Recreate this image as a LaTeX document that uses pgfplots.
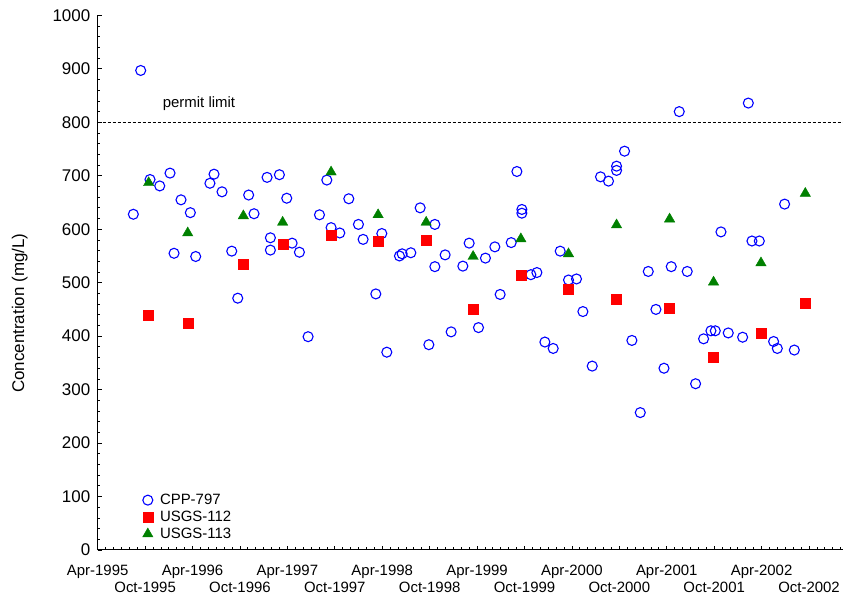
\documentclass[border=0pt]{standalone}
\usepackage{fontspec}
\setmainfont{Liberation Sans}
\usepackage{pgfplots}
\pgfplotsset{compat=1.18}
\definecolor{cppblue}{RGB}{0,0,255}
\definecolor{usred}{RGB}{255,0,0}
\definecolor{usgreen}{RGB}{0,128,0}
\begin{document}
\begin{tikzpicture}
\begin{axis}[
  scale only axis, width=745.3bp, height=534.6bp,
  xmin=0, xmax=94.3, ymin=0, ymax=1000,
  axis lines*=left,
  axis line style={line width=1bp, black},
  tick align=inside,
  xtick={0,12,...,84},
  xticklabels={Apr-1995,Apr-1996,Apr-1997,Apr-1998,Apr-1999,Apr-2000,Apr-2001,Apr-2002},
  extra x ticks={6,18,...,90},
  extra x tick labels={Oct-1995,Oct-1996,Oct-1997,Oct-1998,Oct-1999,Oct-2000,Oct-2001,Oct-2002},
  extra x tick style={x tick label style={yshift=-17bp}},
  minor xtick={0,1,...,94},
  ytick={0,100,...,1000}, minor y tick num=4,
  major tick length=4bp, minor tick length=2.5bp,
  tick style={black, line width=0.8bp},
  x tick label style={font=\fontsize{15}{17}\selectfont, yshift=-11.5bp},
  y tick label style={font=\fontsize{17}{20}\selectfont, xshift=-4bp, /pgf/number format/assume math mode=true},
  /pgf/number format/1000 sep={},
  ylabel={Concentration (mg/L)},
  ylabel style={font=\fontsize{17}{20}\selectfont, at={(axis description cs:-0.1045,0.443)}, anchor=center, rotate=0},
  legend cell align=left,
  legend style={draw=none, fill=none, font=\fontsize{15}{17}\selectfont,
    at={(rel axis cs:0.056,0.011)}, anchor=south west, row sep=1bp, column sep=5bp},
]
\addplot[black, line width=0.6bp, dash pattern=on 3bp off 2bp, forget plot] coordinates {(0,800) (94.3,800)};
\node[anchor=base west, font=\fontsize{15}{17}\selectfont] at (axis cs:7.8,827) {permit limit};

\addplot[only marks, mark=o, mark size=5bp, draw=cppblue, mark options={line width=1.1bp}] coordinates {
(4.51,628) (5.44,897) (6.62,693) (7.85,681) (9.15,705) (9.66,555) (10.54,655) (11.72,631)
(12.4,549) (14.2,686) (14.72,703) (15.73,670) (16.96,559) (17.72,471) (19.1,664) (19.78,629)
(21.43,697) (21.85,584) (21.85,561) (22.99,702) (23.92,658) (24.6,574) (25.52,557) (26.62,399)
(28.06,627) (28.99,692) (29.53,603) (30.63,593) (31.77,657) (32.99,609) (33.58,581) (35.19,479)
(35.95,592) (36.58,370) (38.18,550) (38.52,554) (39.62,556) (40.8,640) (41.9,384) (42.66,609)
(42.66,530) (43.96,552) (44.72,408) (46.2,531) (47.0,574) (48.18,416) (49.06,546) (50.25,567)
(50.92,478) (52.32,575) (53.04,708) (53.67,637) (53.67,630) (54.81,515) (55.57,519) (56.58,389)
(57.63,377) (58.52,559) (59.57,505) (60.58,507) (61.39,446) (62.57,344) (63.62,698) (64.63,690)
(65.65,718) (65.65,710) (66.66,746) (67.59,392) (68.65,257) (69.66,521) (70.63,450) (71.65,340)
(72.57,530) (73.58,820) (74.59,521) (75.65,311) (76.66,395) (77.59,410) (78.14,410) (78.86,595)
(79.78,406) (81.6,398) (82.32,836) (82.78,578) (83.71,578) (85.52,390) (85.99,377) (86.91,647)
(88.14,374)
};
\addlegendentry{CPP-797}

\addplot[only marks, mark=square*, mark size=5bp, draw=usred, fill=usred] coordinates {
(6.45,440) (11.39,424) (18.43,534) (23.46,572) (29.53,589) (35.48,578) (41.56,579) (47.5,451)
(53.54,514) (59.57,487) (65.65,470) (72.36,453) (77.92,360) (83.92,405) (89.53,461)
};
\addlegendentry{USGS-112}

\addplot[only marks, mark=triangle*, mark size=6bp, draw=usgreen, fill=usgreen] coordinates {
(6.45,687) (11.39,593) (18.43,625) (23.4,613) (29.53,707) (35.48,627) (41.56,613) (47.5,549)
(53.54,582) (59.57,554) (65.65,608) (72.36,619) (77.92,501) (83.92,537) (89.53,667)
};
\addlegendentry{USGS-113}
\end{axis}
\pgfresetboundingbox
\path[use as bounding box] ([shift={(-97.7bp,-46bp)}]current axis.south west) rectangle ([shift={(0bp,15.4bp)}]current axis.north east);
\end{tikzpicture}
\end{document}
